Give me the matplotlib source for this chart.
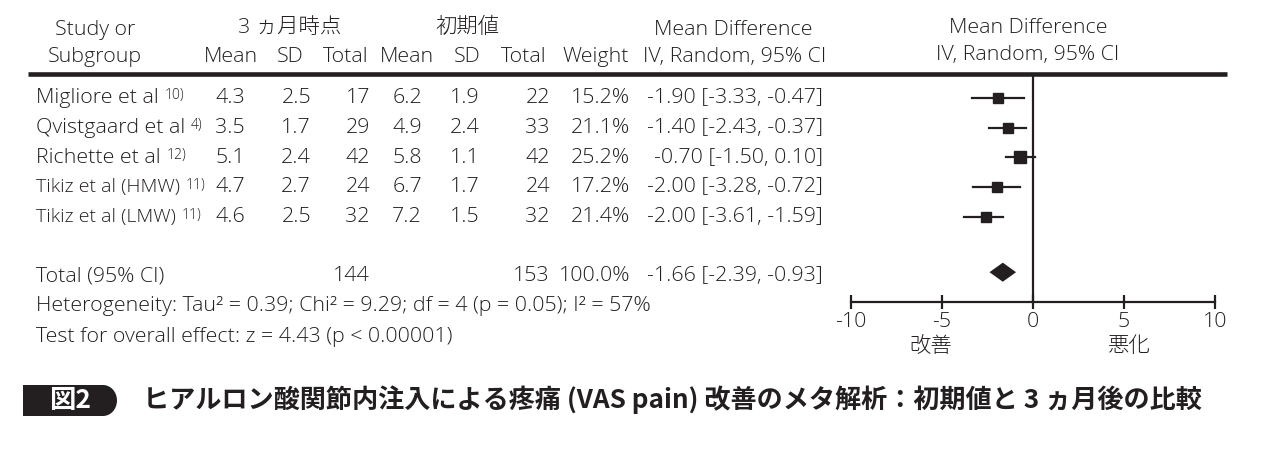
import matplotlib.pyplot as plt
from matplotlib.patches import Rectangle, Ellipse

plt.rcParams['font.family'] = ['Open Sans', 'Noto Sans CJK JP', 'DejaVu Sans']
plt.rcParams['font.weight'] = 'light'
ink = '#231f20'

# data
studies = ['Migliore et al', 'Qvistgaard et al', 'Richette et al', 'Tikiz et al (HMW)', 'Tikiz et al (LMW)']
refs = ['10)', '4)', '12)', '11)', '11)']
mean_3m = ['4.3', '3.5', '5.1', '4.7', '4.6']
sd_3m = ['2.5', '1.7', '2.4', '2.7', '2.5']
n_3m = ['17', '29', '42', '24', '32']
mean_0 = ['6.2', '4.9', '5.8', '6.7', '7.2']
sd_0 = ['1.9', '2.4', '1.1', '1.7', '1.5']
n_0 = ['22', '33', '42', '24', '32']
weight = [15.2, 21.1, 25.2, 17.2, 21.4]
md_text = ['-1.90 [-3.33, -0.47]', '-1.40 [-2.43, -0.37]', '-0.70 [-1.50, 0.10]',
           '-2.00 [-3.28, -0.72]', '-2.00 [-3.61, -1.59]']
md = [-1.90, -1.40, -0.70, -2.00, -2.60]
ci_lo = [-3.33, -2.43, -1.50, -3.28, -3.79]
ci_hi = [-0.47, -0.37, 0.10, -0.72, -1.64]
total_md, total_lo, total_hi = -1.66, -2.39, -0.93
total_n = ['144', '153']
total_text = '-1.66 [-2.39, -0.93]'
ticks = [-10, -5, 0, 5, 10]

fig = plt.figure(figsize=(12.75, 4.58), dpi=100)
ax = fig.add_axes([0, 0, 1, 1])
ax.set_xlim(0, 1275)
ax.set_ylim(458, 0)
ax.axis('off')

fs = 15.4
kw = dict(fontsize=fs, color=ink, va='center')

# header
ax.text(95, 30, 'Study or', ha='center', **kw)
ax.text(95, 57, 'Subgroup', ha='center', **kw)
ax.text(290, 28, '3 ヵ月時点', ha='center', **kw)
ax.text(467, 28, '初期値', ha='center', **kw)
heads = [(231, 'Mean'), (290, 'SD'), (346, 'Total'), (407, 'Mean'), (467, 'SD'),
         (524, 'Total'), (596, 'Weight')]
for x, h in heads:
    ax.text(x, 57, h, ha='center', **kw)
ax.text(733, 30, 'Mean Difference', ha='center', **kw)
ax.text(735, 57, 'IV, Random, 95% CI', ha='center', **kw)
ax.text(1028, 28, 'Mean Difference', ha='center', **kw)
ax.text(1028, 55, 'IV, Random, 95% CI', ha='center', **kw)
ax.plot([28, 1227], [74, 74], color=ink, lw=3.3, solid_capstyle='butt')

# rows
cols = [(245, mean_3m), (311, sd_3m), (370, n_3m), (422, mean_0), (480, sd_0), (550, n_0)]
for i, name in enumerate(studies):
    y = 98 + i * 29.8
    if name.startswith('Tikiz'):
        # narrower in the reference
        t = ax.text(36, y, name, ha='left', fontsize=14, color=ink, va='center')
    else:
        t = ax.text(36, y, name, ha='left', **kw)
    ax.annotate(refs[i], xy=(1, 1), xycoords=t, xytext=(4, 0), textcoords='offset points',
                fontsize=10, color=ink, ha='left', va='top')
    for x, vals in cols:
        ax.text(x, y, vals[i], ha='right', **kw)
    ax.text(630, y, f'{weight[i]:.1f}%', ha='right', **kw)
    ax.text(823, y, md_text[i], ha='right', **kw)

ax.text(36, 276, 'Total (95% CI)', ha='left', **kw)
ax.text(370, 276, total_n[0], ha='right', **kw)
ax.text(550, 276, total_n[1], ha='right', **kw)
ax.text(630, 276, '100.0%', ha='right', **kw)
ax.text(823, 276, total_text, ha='right', **kw)
ax.text(36, 306, 'Heterogeneity: Tau² = 0.39; Chi² = 9.29; df = 4 (p = 0.05); I² = 57%', ha='left', **kw)
ax.text(36, 337, 'Test for overall effect: z = 4.43 (p < 0.00001)', ha='left', **kw)
ax.text(931, 347, '改善', ha='center', **kw)
ax.text(1128, 347, '悪化', ha='center', **kw)

# caption
ax.add_patch(Rectangle((23, 385), 80, 31, color=ink, lw=0))
ax.add_patch(Ellipse((103, 400.5), 28, 31, color=ink, lw=0))
ax.text(70, 400, '図2', ha='center', va='center', fontsize=19, color='white',
        fontweight='bold', family=['Noto Sans CJK JP'])
ax.text(143, 400, 'ヒアルロン酸関節内注入による疼痛 (VAS pain) 改善のメタ解析：初期値と 3 ヵ月後の比較',
        ha='left', va='center', fontsize=18.8, color=ink, fontweight='bold',
        family=['Noto Sans CJK JP'])

# forest plot
axf = fig.add_axes([851 / 1275, (458 - 302) / 458, 364 / 1275, 228 / 458])
axf.patch.set_alpha(0)
axf.set_xlim(-10, 10)
axf.set_ylim(6.85, -0.8)
for s in ['top', 'left', 'right']:
    axf.spines[s].set_visible(False)
axf.spines['bottom'].set_linewidth(1.6)
axf.spines['bottom'].set_color(ink)
axf.set_yticks([])
axf.set_xticks(ticks)
axf.set_xticklabels([str(t) for t in ticks])
axf.tick_params(axis='x', direction='inout', length=10, width=1.6, color=ink,
                labelsize=fs, labelcolor=ink, pad=2)
axf.axvline(0, color=ink, lw=1.6)
for i in range(len(md)):
    axf.plot([ci_lo[i], ci_hi[i]], [i, i], color=ink, lw=1.6)
    axf.plot(md[i], i, marker='s', color=ink, ms=8.5 * (weight[i] / max(weight)) ** 0.5)
yt = 5.85
axf.fill([total_lo, total_md, total_hi, total_md], [yt, yt - 0.32, yt, yt + 0.32], color=ink, lw=0)

fig.savefig('out.png', dpi=100)
